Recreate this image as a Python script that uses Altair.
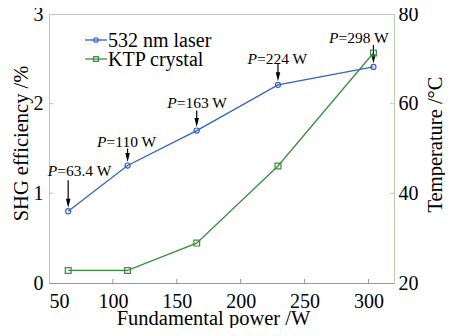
import altair as alt
import pandas as pd

# ---- data ----
power = [65.0, 111.5, 165.6, 229.2, 303.9]          # fundamental power (W)
efficiency = [0.80, 1.31, 1.70, 2.21, 2.41]        # SHG efficiency (%)
temperature = [22.8, 22.8, 28.9, 46.1, 71.3]       # KTP crystal temperature (°C)
ann_labels = ["=63.4 W", "=110 W", "=163 W", "=224 W", "=298 W"]
series_names = ["532 nm laser", "KTP crystal"]
x_ticks = [50, 100, 150, 200, 250, 300]
y_ticks = [0, 1, 2, 3]
t_ticks = [20, 40, 60, 80]

# ---- style / layout (pixels) ----
W, H = 345, 269
X_DOM = [50, 320]
Y_DOM = [0, 3]
T_DOM = [20, 80]
px_x = (X_DOM[1] - X_DOM[0]) / W
px_y = (Y_DOM[1] - Y_DOM[0]) / H
text_dy = [35, 19, 23, 21, 24]       # label baseline above point
arrow_top = [31, 17, 20, 21, 22]     # arrow start above point
split_dx = [-11, -21, -20, -21, -35]  # where italic P ends relative to point
BLUE = "#3462c4"
GREEN = "#3a8c3e"
FONT = "Liberation Serif"

eff_df = pd.DataFrame({"power": power, "eff": efficiency})
tmp_df = pd.DataFrame({"power": power, "temp": temperature})
ann_df = pd.DataFrame({
    "power": power,
    "eff": efficiency,
    "label": ann_labels,
    "ty": [e + d * px_y for e, d in zip(efficiency, text_dy)],
    "tx": [p + d * px_x for p, d in zip(power, split_dx)],
    "atop": [e + d * px_y for e, d in zip(efficiency, arrow_top)],
    "abot": [e + 7 * px_y for e in efficiency],
    "ahead": [e + 8 * px_y for e in efficiency],
})

xs = alt.Scale(domain=X_DOM, nice=False, zero=False)
ys = alt.Scale(domain=Y_DOM, nice=False)
ts = alt.Scale(domain=T_DOM, nice=False, zero=False)

common = dict(grid=False, ticks=False, tickSize=0, labelFont=FONT, titleFont=FONT,
              labelFontSize=20, titleFontSize=20.5, labelColor="black",
              titleColor="black", titleFontWeight="normal", domainWidth=1)

x_axis = alt.Axis(values=x_ticks, title="Fundamental power /W", labelPadding=8,
                  domainColor="#9a9a9a", titleX=164, titleY=41,
                  titleBaseline="alphabetic", **common)
y_axis = alt.Axis(values=y_ticks, title="SHG efficiency /%", labelPadding=6,
                  domainColor="#b4c0dc", titleX=-22, titleY=129,
                  titleBaseline="alphabetic", titleAngle=270, **common)
t_axis = alt.Axis(values=t_ticks, title="Temperature /°C", orient="right", labelPadding=4,
                  domainColor="#b8d0b0", titleX=47, titleY=130,
                  titleBaseline="alphabetic", titleAngle=270, **common)


def XX(f):
    return alt.X(f, scale=xs, axis=x_axis)


def YY(f):
    return alt.Y(f, scale=ys, axis=y_axis)


def TT(f):
    return alt.Y(f, scale=ts, axis=t_axis)


# ---- left (efficiency) layers ----
blue_line = alt.Chart(eff_df).mark_line(color=BLUE, strokeWidth=1.3).encode(
    x=XX("power:Q"), y=YY("eff:Q"))
blue_pts = alt.Chart(eff_df).mark_point(shape="circle", filled=False, color=BLUE,
                                        size=26, strokeWidth=1.2, opacity=1).encode(
    x=XX("power:Q"), y=YY("eff:Q"))
ann_p = alt.Chart(ann_df).mark_text(text="P", fontStyle="italic", font=FONT, fontSize=15.5,
                                    align="right", baseline="alphabetic", color="black").encode(
    x=XX("tx:Q"), y=YY("ty:Q"))
ann_t = alt.Chart(ann_df).mark_text(font=FONT, fontSize=15.5, align="left",
                                    baseline="alphabetic", color="black").encode(
    x=XX("tx:Q"), y=YY("ty:Q"), text="label:N")
ann_shaft = alt.Chart(ann_df).mark_rule(color="black", strokeWidth=1.2).encode(
    x=XX("power:Q"), y=YY("atop:Q"), y2="abot:Q")
ann_head = alt.Chart(ann_df).mark_point(shape="M-0.5,-1L0.5,-1L0,1Z", filled=True,
                                        color="black", size=81, opacity=1).encode(
    x=XX("power:Q"), y=YY("ahead:Q"))

# inward ticks
xt_df = pd.DataFrame({"v": x_ticks[1:]})
x_tick_marks = alt.Chart(xt_df).mark_rule(color="#9a9a9a").encode(
    x=XX("v:Q"), y=alt.value(H), y2=alt.value(H - 4))
yt_df = pd.DataFrame({"v": y_ticks[1:-1]})
y_tick_marks = alt.Chart(yt_df).mark_rule(color="#b4c0dc").encode(
    y=YY("v:Q"), x=alt.value(0), x2=alt.value(4))

# legend (drawn manually)
leg_df = pd.DataFrame({"name": series_names})


def legend_row(name, color, shape, size, yy):
    d = leg_df[leg_df["name"] == name]
    line = alt.Chart(d).mark_rule(color=color, strokeWidth=1.3).encode(
        x=alt.value(36), x2=alt.value(58), y=alt.value(yy))
    pt = alt.Chart(d).mark_point(shape=shape, filled=False, color=color, size=size,
                                 strokeWidth=1.2, opacity=1).encode(
        x=alt.value(47), y=alt.value(yy))
    txt = alt.Chart(d).mark_text(font=FONT, fontSize=20, align="left",
                                 baseline="middle", color="black").encode(
        x=alt.value(59), y=alt.value(yy + 1), text="name:N")
    return [line, pt, txt]


left = alt.layer(blue_line, blue_pts, ann_shaft, ann_head, ann_p, ann_t,
                 x_tick_marks, y_tick_marks,
                 *legend_row(series_names[0], BLUE, "circle", 20, 26),
                 *legend_row(series_names[1], GREEN, "square", 22, 45))

# ---- right (temperature) layers ----
green_line = alt.Chart(tmp_df).mark_line(color=GREEN, strokeWidth=1.3).encode(
    x=XX("power:Q"), y=TT("temp:Q"))
green_pts = alt.Chart(tmp_df).mark_point(shape="square", filled=False, color=GREEN,
                                         size=34, strokeWidth=1.2, opacity=1).encode(
    x=XX("power:Q"), y=TT("temp:Q"))
tt_df = pd.DataFrame({"v": t_ticks[1:-1]})
t_tick_marks = alt.Chart(tt_df).mark_rule(color="#b8d0b0").encode(
    y=TT("v:Q"), x=alt.value(W), x2=alt.value(W - 4))

right = alt.layer(green_line, green_pts, t_tick_marks)

chart = alt.layer(left, right).resolve_scale(y="independent").properties(
    width=W, height=H,
    autosize=alt.AutoSizeParams(type="none"),
    padding={"left": 41, "top": 6, "right": 51, "bottom": 45},
    background="white",
).configure_view(stroke="#c4c4c4", strokeWidth=1)

chart.save("out.html", embed_options={"renderer": "svg", "actions": False})
